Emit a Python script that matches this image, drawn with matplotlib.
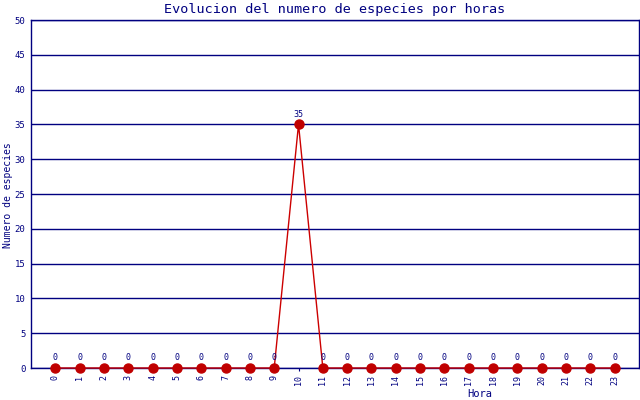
import matplotlib
matplotlib.use("Agg")
import matplotlib.pyplot as plt

hours = list(range(24))
species = [0, 0, 0, 0, 0, 0, 0, 0, 0, 0, 35, 0, 0, 0, 0, 0, 0, 0, 0, 0, 0, 0, 0, 0]
tick_labels = [str(h) for h in hours]

navy = "#000080"
plt.rcParams['font.family'] = ['DejaVu Sans Mono']

fig = plt.figure(figsize=(6.4, 4.0), dpi=100)
ax = fig.add_axes([31/640, 32/400, 608/640, 348/400])

ax.plot(hours, species, color="#cc0000", lw=1, marker="o", ms=6.5,
        mfc="#c00000", mec="#c00000", zorder=3, clip_on=False)
for h, v in zip(hours, species):
    ax.annotate(str(v), (h, v), xytext=(0, 4), textcoords="offset points",
                ha="center", va="bottom", fontsize=6, color=navy)

ax.set_xlim(-1, 24)
ax.set_ylim(0, 50)
ax.set_yticks(range(0, 51, 5))
ax.yaxis.grid(True, color=navy, lw=1)
ax.set_axisbelow(True)
ax.set_xticks(hours)
ax.set_xticklabels(tick_labels, rotation=90, fontsize=6, color=navy)
ax.tick_params(axis='y', labelsize=6.5, labelcolor=navy, length=0, pad=4)
ax.tick_params(axis='x', length=2, color=navy, pad=3)
for s in ax.spines.values():
    s.set_color(navy)
    s.set_linewidth(1)

fig.text(335/640, 1 - 9/400, "Evolucion del numero de especies por horas",
         ha="center", va="center", fontsize=9.7, color=navy)
fig.text(8/640, 1 - 195/400, "Numero de especies", rotation=90,
         ha="center", va="center", fontsize=7, color=navy)
fig.text(480/640, 1 - 394/400, "Hora", ha="center", va="center",
         fontsize=7.5, color=navy)

fig.savefig("out.png", dpi=100)
